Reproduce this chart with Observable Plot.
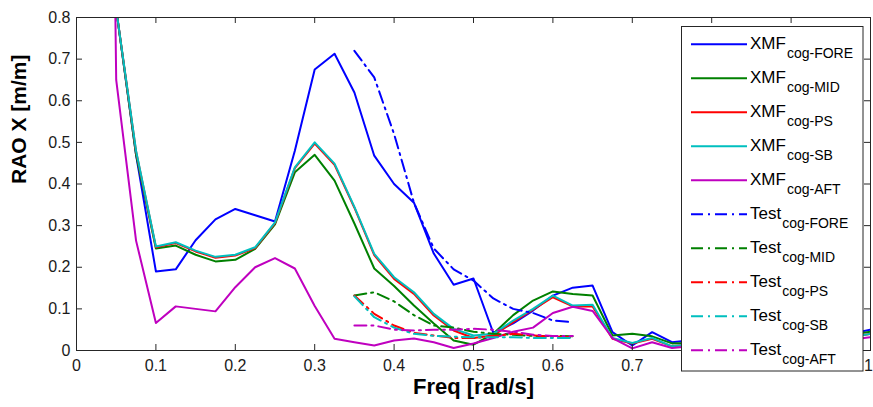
<!DOCTYPE html>
<html>
<head>
<meta charset="utf-8">
<script src="https://cdn.jsdelivr.net/npm/d3@7"></script>
<script src="https://cdn.jsdelivr.net/npm/@observablehq/plot@0.6"></script>
<style>
  html, body { margin: 0; padding: 0; background: #fff; }
  #chart { position: relative; width: 873px; height: 407px; font-family: "Liberation Sans", Arial, sans-serif; }
  #chart svg.overlay { position: absolute; left: 0; top: 0; pointer-events: none; }
</style>
</head>
<body>
<div id="chart"></div>
<script>
// Frequency grids (rad/s)
const freqSim = [0.048, 0.05, 0.075, 0.1, 0.125, 0.15, 0.175, 0.2, 0.225, 0.25, 0.275, 0.3, 0.325, 0.35,
  0.375, 0.4, 0.425, 0.45, 0.475, 0.5, 0.525, 0.55, 0.575, 0.6, 0.625, 0.65, 0.675, 0.7, 0.725, 0.75,
  0.8, 0.85, 0.9, 0.95, 1.0];
const freqTest = [0.35, 0.375, 0.4, 0.425, 0.45, 0.475, 0.5, 0.525, 0.55, 0.575, 0.6, 0.625];

// Computed surge RAO (m/m) at each location
const xmfFore = [0.95, 0.82, 0.47, 0.19, 0.195, 0.265, 0.315, 0.34, 0.325, 0.31, 0.48, 0.675, 0.713, 0.62,
  0.468, 0.4, 0.355, 0.233, 0.158, 0.173, 0.042, 0.065, 0.096, 0.132, 0.151, 0.156, 0.044, 0.012, 0.044, 0.02,
  0.03, 0.025, 0.02, 0.03, 0.05];
const xmfMid = [0.95, 0.82, 0.47, 0.245, 0.252, 0.23, 0.214, 0.218, 0.244, 0.303, 0.428, 0.47, 0.408, 0.305,
  0.197, 0.155, 0.108, 0.065, 0.024, 0.014, 0.04, 0.085, 0.12, 0.142, 0.136, 0.132, 0.036, 0.04, 0.034, 0.017,
  0.02, 0.02, 0.02, 0.03, 0.045];
const xmfPs = [0.95, 0.82, 0.478, 0.248, 0.258, 0.238, 0.223, 0.228, 0.246, 0.306, 0.438, 0.497, 0.446, 0.343,
  0.229, 0.172, 0.136, 0.084, 0.048, 0.03, 0.036, 0.068, 0.098, 0.128, 0.106, 0.106, 0.028, 0.017, 0.028, 0.01,
  0.02, 0.02, 0.02, 0.025, 0.04];
const xmfSb = [0.95, 0.82, 0.48, 0.25, 0.26, 0.24, 0.225, 0.23, 0.248, 0.308, 0.44, 0.5, 0.449, 0.345,
  0.232, 0.176, 0.14, 0.088, 0.052, 0.036, 0.04, 0.072, 0.1, 0.132, 0.108, 0.11, 0.03, 0.018, 0.03, 0.01,
  0.02, 0.02, 0.02, 0.025, 0.04];
const xmfAft = [0.95, 0.65, 0.264, 0.066, 0.106, 0.1, 0.094, 0.152, 0.2, 0.222, 0.197, 0.107, 0.028, 0.02,
  0.012, 0.024, 0.029, 0.02, 0.006, 0.017, 0.03, 0.045, 0.055, 0.09, 0.105, 0.095, 0.03, 0.005, 0.02, 0.006,
  0.015, 0.015, 0.015, 0.02, 0.032];

// Model test surge RAO (m/m)
const testFore = [0.72, 0.656, 0.52, 0.355, 0.245, 0.195, 0.168, 0.125, 0.1, 0.09, 0.072, 0.068];
const testMid = [0.132, 0.14, 0.118, 0.085, 0.06, 0.055, 0.045, 0.04, 0.038, 0.035, 0.035, 0.034];
const testPs = [0.132, 0.088, 0.06, 0.042, 0.036, 0.03, 0.03, 0.035, 0.04, 0.036, 0.033, 0.032];
const testSb = [0.13, 0.08, 0.055, 0.04, 0.035, 0.033, 0.032, 0.032, 0.032, 0.03, 0.03, 0.03];
const testAft = [0.06, 0.06, 0.05, 0.048, 0.05, 0.05, 0.052, 0.05, 0.045, 0.038, 0.035, 0.035];

// Axis ticks (0.8 and 0.9 labels sit under the legend box)
const xTicks = [0, 0.1, 0.2, 0.3, 0.4, 0.5, 0.6, 0.7, 0.8, 0.9, 1];
const xTickLabels = [0, 0.1, 0.2, 0.3, 0.4, 0.5, 0.6, 0.7];
const xEndLabel = [1];
const yTicks = [0, 0.1, 0.2, 0.3, 0.4, 0.5, 0.6, 0.7, 0.8];

const W = 873, H = 407;
const mL = 76, mR = 3, mT = 17, mB = 57;
const fw = W - mL - mR, fh = H - mT - mB;
const tickLen = 6;
const dashDot = "12,5,2,5";
const axisColor = "#262626";
const font = "'Liberation Sans', Arial, sans-serif";

const rows = (freq, vals) => freq.map((f, i) => ({f, v: vals[i]}));

const series = [
  {main: "XMF", sub: "cog-FORE", freq: freqSim, vals: xmfFore, color: "#0000ff", dash: null},
  {main: "XMF", sub: "cog-MID", freq: freqSim, vals: xmfMid, color: "#008000", dash: null},
  {main: "XMF", sub: "cog-PS", freq: freqSim, vals: xmfPs, color: "#ff0000", dash: null},
  {main: "XMF", sub: "cog-SB", freq: freqSim, vals: xmfSb, color: "#00bfbf", dash: null},
  {main: "XMF", sub: "cog-AFT", freq: freqSim, vals: xmfAft, color: "#bf00bf", dash: null},
  {main: "Test", sub: "cog-FORE", freq: freqTest, vals: testFore, color: "#0000ff", dash: dashDot},
  {main: "Test", sub: "cog-MID", freq: freqTest, vals: testMid, color: "#008000", dash: dashDot},
  {main: "Test", sub: "cog-PS", freq: freqTest, vals: testPs, color: "#ff0000", dash: dashDot},
  {main: "Test", sub: "cog-SB", freq: freqTest, vals: testSb, color: "#00bfbf", dash: dashDot},
  {main: "Test", sub: "cog-AFT", freq: freqTest, vals: testAft, color: "#bf00bf", dash: dashDot}
];

const lineMarks = series.map(s => Plot.line(rows(s.freq, s.vals), {
  x: "f", y: "v", stroke: s.color, strokeWidth: 2,
  strokeDasharray: s.dash, clip: true
}));

const chart = Plot.plot({
  width: W, height: H,
  marginLeft: mL, marginRight: mR, marginTop: mT, marginBottom: mB,
  style: {fontFamily: font, background: "#fff", color: "#1a1a1a"},
  x: {domain: [0, 1]},
  y: {domain: [0, 0.8]},
  marks: [
    ...lineMarks,
    // inward ticks on all four sides
    Plot.tickX(xTicks, {x: d => d, insetTop: fh - tickLen, stroke: axisColor}),
    Plot.tickX(xTicks, {x: d => d, insetBottom: fh - tickLen, stroke: axisColor}),
    Plot.tickY(yTicks, {y: d => d, insetRight: fw - tickLen, stroke: axisColor}),
    Plot.tickY(yTicks, {y: d => d, insetLeft: fw - tickLen, stroke: axisColor}),
    Plot.frame({stroke: axisColor}),
    Plot.axisX({ticks: xTickLabels, tickSize: 0, tickPadding: 9, fontSize: 16, tickFormat: d => String(d), label: null}),
    // last label nudged so it stays inside the page edge
    Plot.axisX({ticks: xEndLabel, tickSize: 0, tickPadding: 9, fontSize: 16, tickFormat: d => String(d), label: null, dx: -2}),
    Plot.axisY({ticks: yTicks, tickSize: 0, tickPadding: 6, fontSize: 16, tickFormat: d => String(d), label: null}),
    Plot.text(["Freq [rad/s]"], {frameAnchor: "bottom", dy: 43, fontSize: 22, fontWeight: "bold", fill: "#000"}),
    Plot.text(["RAO X [m/m]"], {frameAnchor: "left", dx: -57, rotate: -90, fontSize: 21, fontWeight: "bold", fill: "#000"})
  ]
});

const root = document.getElementById("chart");
root.appendChild(chart);

// Legend box drawn over the plot area
const lg = d3.select(root).append("svg")
  .attr("class", "overlay")
  .attr("width", W).attr("height", H)
  .style("font-family", font);

const box = {x: 681.5, y: 26.5, w: 181.5, h: 344.5};
lg.append("rect")
  .attr("x", box.x).attr("y", box.y).attr("width", box.w).attr("height", box.h)
  .attr("fill", "#fff").attr("stroke", axisColor).attr("stroke-width", 1);

const rowStep = 34.0, firstRow = 44.3;
series.forEach((s, i) => {
  const cy = firstRow + i * rowStep;
  lg.append("line")
    .attr("x1", 691).attr("x2", 747).attr("y1", cy).attr("y2", cy)
    .attr("stroke", s.color).attr("stroke-width", 2)
    .attr("stroke-dasharray", s.dash);
  const t = lg.append("text")
    .attr("x", 750).attr("y", cy + 4.5)
    .attr("font-size", 17).attr("fill", "#000");
  t.append("tspan").text(s.main);
  t.append("tspan").attr("dx", 1).attr("dy", 9).attr("font-size", 14).text(s.sub);
});
</script>
</body>
</html>
